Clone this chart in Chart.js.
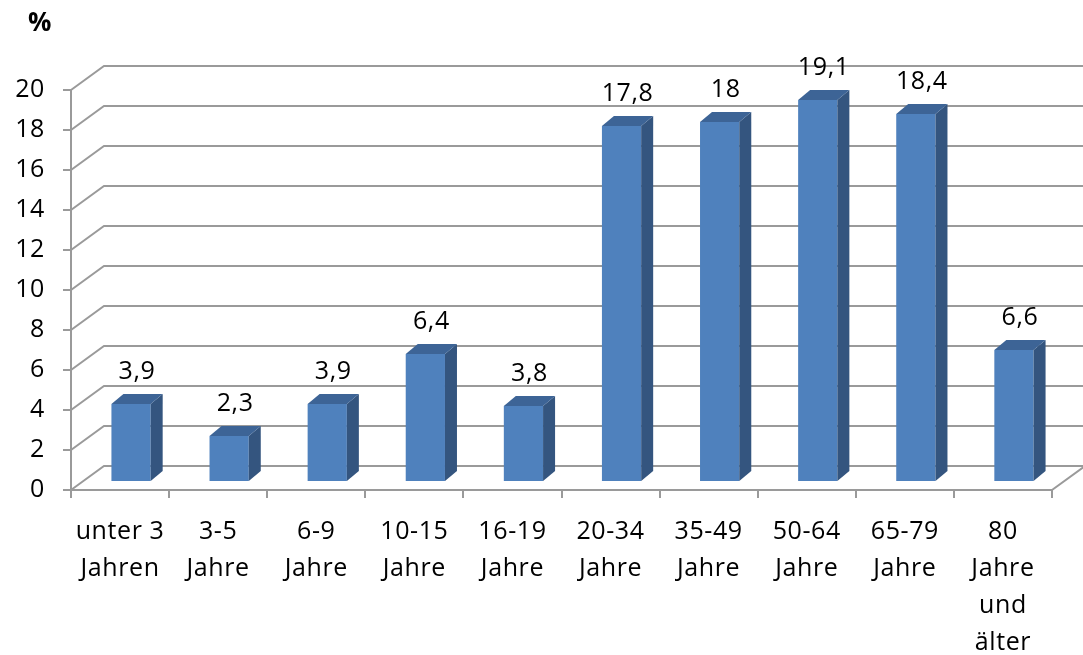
<!DOCTYPE html>
<html lang="de">
<head>
<meta charset="UTF-8">
<title>Altersgruppen</title>
<script src="https://cdn.jsdelivr.net/npm/chart.js"></script>
<style>
  html, body { margin: 0; padding: 0; background: #fff; }
  #wrap { width: 1083px; height: 655px; }
</style>
</head>
<body>
<div id="wrap"><canvas id="chart"></canvas></div>
<script>
// age groups (x axis) and their share in percent
const ageGroups = [
    ['unter 3', 'Jahren'], ['3-5', 'Jahre'], ['6-9', 'Jahre'], ['10-15', 'Jahre'],
    ['16-19', 'Jahre'], ['20-34', 'Jahre'], ['35-49', 'Jahre'], ['50-64', 'Jahre'],
    ['65-79', 'Jahre'], ['80', 'Jahre', 'und', 'älter']
];
const shares = [3.9, 2.3, 3.9, 6.4, 3.8, 17.8, 18, 19.1, 18.4, 6.6];
const yMin = 0;
const yMax = 20;
const yStep = 2;

const GRID = '#9a9a9a';
const FONT = 'Open Sans';
const FONT_SIZE = 25;

// fake 3D: back wall offset, where the bars sit in depth, and how deep they are
const wall = { dx: 33, dy: -24 };
const barShift = { dx: 11, dy: -8 };
const barDepth = { dx: 12, dy: -10 };

const fmt = v => String(v).replace('.', ',');

const box3d = {
    id: 'box3d',
    beforeInit(chart) {
        chart.ctx.letterSpacing = '0.6px';
    },
    beforeDraw(chart) {
        chart.ctx.letterSpacing = '0.6px';
    },
    beforeDatasetsDraw(chart) {
        const { ctx, chartArea: a, scales: { y } } = chart;
        ctx.save();
        ctx.strokeStyle = GRID;
        ctx.lineWidth = 2;
        ctx.lineCap = 'round';
        // gridlines on the side wall and back wall
        y.ticks.forEach(t => {
            const py = y.getPixelForValue(t.value);
            ctx.beginPath();
            ctx.moveTo(a.left, py);
            ctx.lineTo(a.left + wall.dx, py + wall.dy);
            ctx.lineTo(a.right + wall.dx, py + wall.dy);
            ctx.stroke();
        });
        // right edge of the floor
        ctx.beginPath();
        ctx.moveTo(a.right, a.bottom);
        ctx.lineTo(a.right + wall.dx, a.bottom + wall.dy);
        ctx.stroke();
        ctx.restore();

        // front faces are drawn by Chart.js, shifted into the floor
        ctx.save();
        ctx.translate(barShift.dx, barShift.dy);
    },
    afterDatasetsDraw(chart) {
        const { ctx } = chart;
        ctx.restore();
        const meta = chart.getDatasetMeta(0);
        ctx.save();
        meta.data.forEach((bar, i) => {
            const p = bar.getProps(['x', 'y', 'width', 'base'], true);
            const l = p.x - p.width / 2 + barShift.dx;
            const r = p.x + p.width / 2 + barShift.dx;
            const t = p.y + barShift.dy;
            const b = p.base + barShift.dy;
            // side face
            ctx.fillStyle = '#34557f';
            ctx.beginPath();
            ctx.moveTo(r, t);
            ctx.lineTo(r + barDepth.dx, t + barDepth.dy);
            ctx.lineTo(r + barDepth.dx, b + barDepth.dy);
            ctx.lineTo(r, b);
            ctx.closePath();
            ctx.fill();
            // top face
            ctx.fillStyle = '#3d6496';
            ctx.beginPath();
            ctx.moveTo(l, t);
            ctx.lineTo(l + barDepth.dx, t + barDepth.dy);
            ctx.lineTo(r + barDepth.dx, t + barDepth.dy);
            ctx.lineTo(r, t);
            ctx.closePath();
            ctx.fill();
            // value label
            ctx.fillStyle = '#000';
            ctx.font = FONT_SIZE + 'px "' + FONT + '"';
            ctx.textAlign = 'center';
            ctx.textBaseline = 'middle';
            ctx.fillText(fmt(shares[i]), (l + r) / 2 + barDepth.dx / 2, t + barDepth.dy - 22);
        });
        // unit label
        ctx.fillStyle = '#000';
        ctx.font = 'bold 26px "' + FONT + '"';
        ctx.textAlign = 'center';
        ctx.textBaseline = 'middle';
        ctx.fillText('%', 40, 24);
        ctx.restore();
    }
};

Chart.defaults.font.family = FONT;
Chart.defaults.font.size = FONT_SIZE;
Chart.defaults.color = '#000';

new Chart(document.getElementById('chart'), {
    type: 'bar',
    data: {
        labels: ageGroups,
        datasets: [{
            data: shares,
            backgroundColor: '#4f81bd',
            borderWidth: 0,
            categoryPercentage: 1,
            barPercentage: 0.4,
            clip: false
        }]
    },
    options: {
        responsive: true,
        maintainAspectRatio: false,
        animation: false,
        layout: { padding: { top: 90, right: 31, left: 0, bottom: 0 } },
        plugins: { legend: { display: false }, tooltip: { enabled: false } },
        scales: {
            x: {
                grid: { offset: true, drawOnChartArea: false, tickLength: 8, color: GRID, lineWidth: 2 },
                border: { color: GRID, width: 2 },
                ticks: { maxRotation: 0, autoSkip: false, padding: 15, font: { lineHeight: 1.48 } },
                afterFit(s) { s.height = 165; }
            },
            y: {
                min: yMin,
                max: yMax,
                grid: { drawOnChartArea: false, tickLength: 8, color: GRID, lineWidth: 2 },
                border: { color: GRID, width: 2 },
                ticks: { stepSize: yStep, padding: 18 },
                afterFit(s) { s.width = 71; }
            }
        }
    },
    plugins: [box3d]
});
</script>
</body>
</html>
